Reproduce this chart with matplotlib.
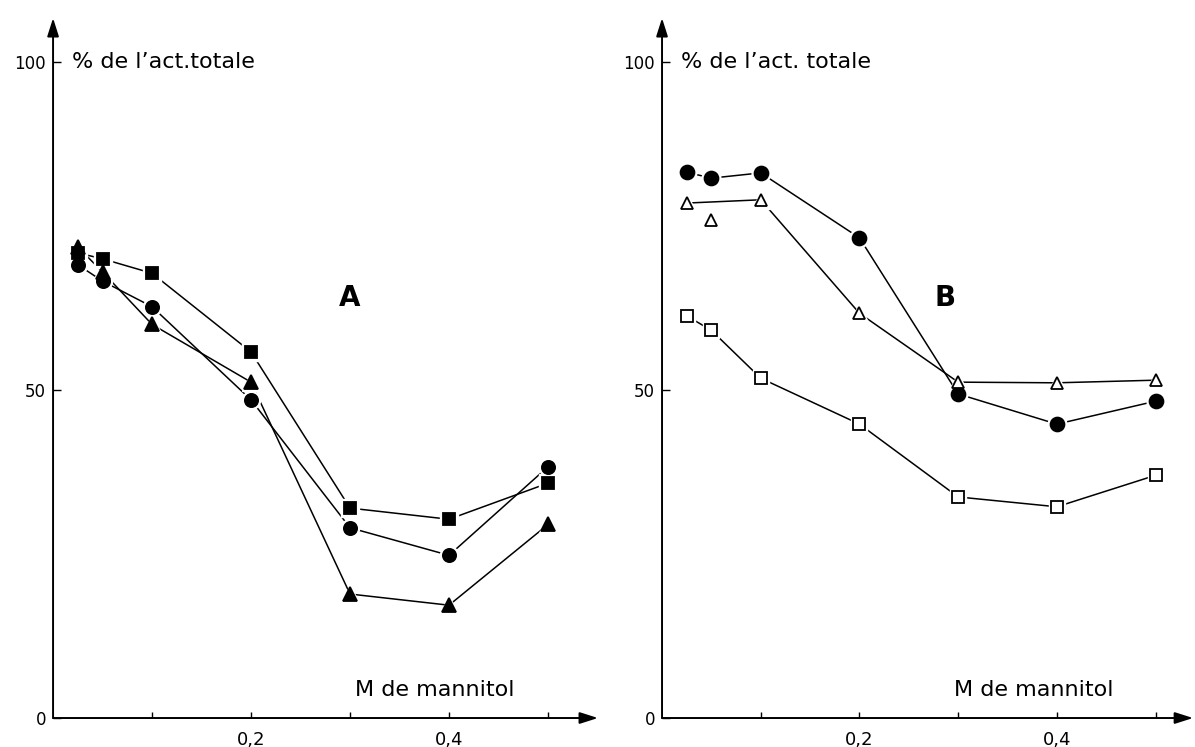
"""
Activité en fonction de la concentration en mannitol - panneaux A et B
"""

import matplotlib
matplotlib.use('Agg')
import matplotlib.pyplot as plt

matplotlib.rcParams['font.family'] = ['DejaVu Sans']

# Concentrations en mannitol (M)
MANNITOL = [0.025, 0.05, 0.1, 0.2, 0.3, 0.4, 0.5]

# Panneau A (symboles pleins)
A_CARRE = [70.9, 70.0, 67.8, 55.8, 32.0, 30.3, 35.8]
A_ROND = [69.1, 66.6, 62.7, 48.5, 29.0, 24.8, 38.3]
A_TRIANGLE = [71.8, 68.0, 60.0, 51.2, 18.9, 17.2, 29.5]

# Panneau B (ronds pleins, symboles vides)
B_ROND = [83.2, 82.3, 83.1, 73.2, 49.4, 44.8, 48.3]
B_TRIANGLE = [78.5, 75.9, 79.0, 61.7, 51.2, 51.1, 51.5]
B_CARRE = [61.3, 59.1, 51.8, 44.8, 33.7, 32.2, 37.0]

X_TICKS = [0.1, 0.2, 0.3, 0.4, 0.5]
X_TICKLABELS = ['', '0,2', '', '0,4', '']
Y_TICKS = [0, 50, 100]
Y_TICKLABELS = ['0', '50', '100']


def courbe(ax, x, y, marker, filled, ms, skip=()):
    """Trace une série : ligne (avec éventuels points non reliés) puis symboles."""
    xl = [v for i, v in enumerate(x) if i not in skip]
    yl = [v for i, v in enumerate(y) if i not in skip]
    ax.plot(xl, yl, '-', color='black', lw=1.1, zorder=1)
    # halo blanc : la ligne s'arrête avant le symbole
    ax.plot(x, y, linestyle='none', marker=marker, ms=ms + 3.5,
            mfc='white', mec='white', zorder=2)
    ax.plot(x, y, linestyle='none', marker=marker, ms=ms,
            mfc='black' if filled else 'white', mec='black', mew=1.3, zorder=3)


def habillage(ax, xmax, lettre, lettre_x, titre_y):
    ax.set_xlim(0, xmax)
    ax.set_ylim(0, 106.7)
    for s in ax.spines.values():
        s.set_visible(False)

    # axes fléchés
    fleche = dict(arrowstyle='-|>,head_length=1.1,head_width=0.35',
                  color='black', lw=1.4, mutation_scale=10,
                  shrinkA=0, shrinkB=0)
    ax.annotate('', xy=(1, 0), xytext=(0, 0), xycoords='axes fraction',
                arrowprops=fleche)
    ax.annotate('', xy=(0, 1), xytext=(0, 0), xycoords='axes fraction',
                arrowprops=fleche)

    ax.set_xticks(X_TICKS)
    ax.set_xticklabels(X_TICKLABELS, fontsize=13)
    ax.set_yticks(Y_TICKS)
    ax.set_yticklabels(Y_TICKLABELS, fontsize=12)
    ax.tick_params(axis='x', direction='in', length=4, width=1, pad=9)
    ax.tick_params(axis='y', direction='in', length=6, width=1, pad=5)

    ax.text(0.019, 100, titre_y, fontsize=16, ha='left', va='center')
    ax.text(xmax * 0.70, 4.3, 'M de mannitol', fontsize=16,
            ha='center', va='center')
    ax.text(lettre_x, 64, lettre, fontsize=20, fontweight='bold',
            ha='center', va='center')


def main():
    fig = plt.figure(figsize=(11.95, 7.47), dpi=100)

    # Panneau A
    ax1 = fig.add_axes([0.0444, 0.0388, 0.456, 0.937])
    courbe(ax1, MANNITOL, A_CARRE, 's', True, 9)
    courbe(ax1, MANNITOL, A_ROND, 'o', True, 9.5)
    courbe(ax1, MANNITOL, A_TRIANGLE, '^', True, 9.5)
    habillage(ax1, 0.5505, 'A', 0.30, "% de l\u2019act.totale")

    # Panneau B
    ax2 = fig.add_axes([0.554, 0.0388, 0.4444, 0.937])
    courbe(ax2, MANNITOL, B_ROND, 'o', True, 10)
    courbe(ax2, MANNITOL, B_TRIANGLE, '^', False, 9, skip=(1,))
    courbe(ax2, MANNITOL, B_CARRE, 's', False, 8.5)
    habillage(ax2, 0.538, 'B', 0.287, "% de l\u2019act. totale")

    fig.savefig('out.png', dpi=100)


if __name__ == '__main__':
    main()
